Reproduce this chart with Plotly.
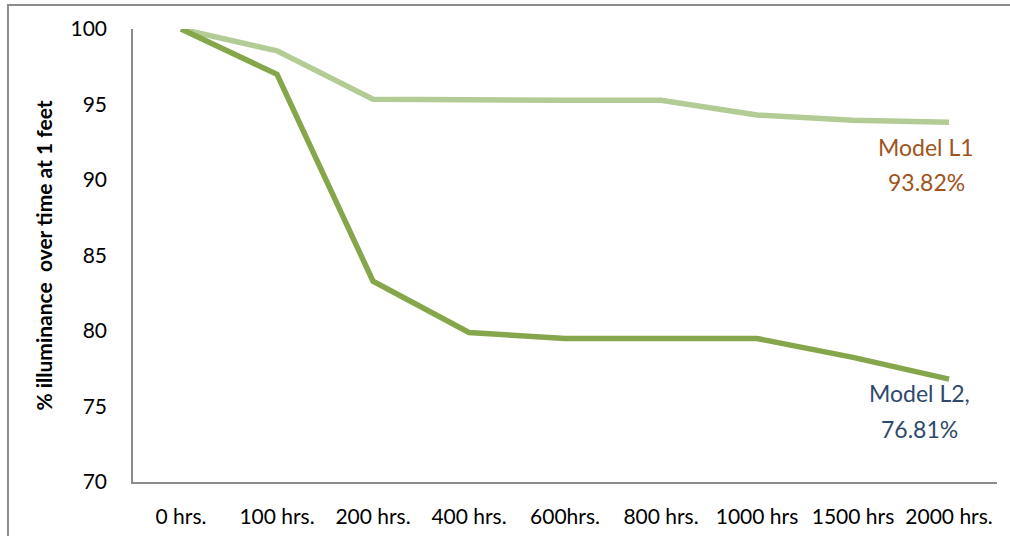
import plotly.graph_objects as go

# Burn-in hours (category axis)
hours = ["0 hrs.", "100 hrs.", "200 hrs.", "400 hrs.", "600hrs.",
         "800 hrs.", "1000 hrs", "1500 hrs", "2000 hrs."]

# Relative illuminance (%) at 1 foot
model_l1 = [100, 98.55, 95.35, 95.28, 95.28, 95.28, 94.3, 93.95, 93.82]
model_l2 = [100, 97.0, 83.3, 79.9, 79.5, 79.5, 79.5, 78.25, 76.81]

y_ticks = [70, 75, 80, 85, 90, 95, 100]

FONT = "Lato, Liberation Sans, sans-serif"

fig = go.Figure()
fig.add_trace(go.Scatter(x=hours, y=model_l1, mode="lines", name="Model L1",
                         line=dict(color="#B3CC95", width=5.5)))
fig.add_trace(go.Scatter(x=hours, y=model_l2, mode="lines", name="Model L2",
                         line=dict(color="#86A64B", width=5.5)))

# End-of-test labels (name line above value line)
def end_label(series, name, color, dx, dy_name, dy_val):
    for txt, dy in ((name, dy_name), (f"{series[-1]:.2f}%", dy_val)):
        fig.add_annotation(x=hours[-1], y=series[-1], xshift=dx, yshift=dy,
                           text=txt, showarrow=False,
                           font=dict(family=FONT, size=23, color=color))

end_label(model_l1, "Model L1", "#A0531C", -23, -25, -60)
end_label(model_l2, "Model L2,", "#2E4A6B", -30, -14, -50)

# Outer chart border
fig.add_shape(type="rect", xref="paper", yref="paper",
              x0=-0.1447, x1=1.05, y0=-0.2, y1=1.053,
              line=dict(color="#8C8C8C", width=2), fillcolor="rgba(0,0,0,0)")

fig.update_layout(
    width=1010, height=536,
    margin=dict(l=133, r=13, t=29, b=54),
    paper_bgcolor="white", plot_bgcolor="white",
    showlegend=False,
    font=dict(family=FONT, size=21, color="#000000"),
)
fig.update_xaxes(type="category", showgrid=False, showline=True,
                 linecolor="#8C8C8C", linewidth=1.5, ticks="",
                 tickfont=dict(family=FONT, size=21), ticklabelstandoff=15,
                 automargin=False,
                 range=[-0.5, len(hours) - 0.5])
fig.update_yaxes(range=[70, 100], tickvals=y_ticks, showgrid=False,
                 showline=True, linecolor="#8C8C8C", linewidth=1.5, ticks="",
                 zeroline=False, tickfont=dict(family=FONT, size=21),
                 ticklabelstandoff=20, automargin=False,
                 title=dict(text="<b>% illuminance  over time at 1 feet</b>",
                            font=dict(family=FONT, size=21), standoff=12))

fig.write_html("out.html")
